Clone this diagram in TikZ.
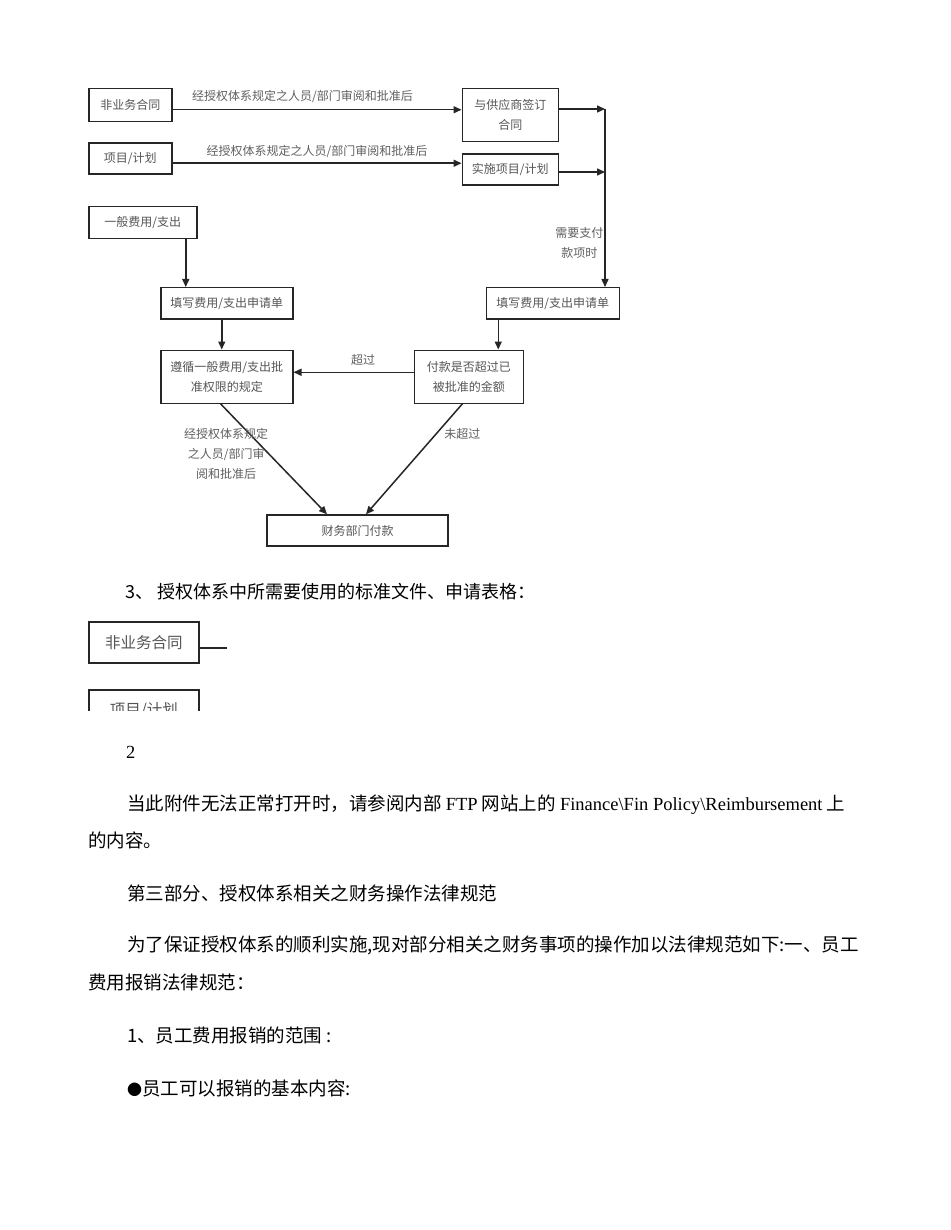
\documentclass[tikz,border=0pt]{standalone}
\usepackage{fontspec}
\setmainfont{Liberation Serif}
\newfontfamily\cjk{Noto Sans CJK SC}
\usepackage{tikz}
\usetikzlibrary{arrows.meta, positioning, calc}
\usepackage{xcolor}
\definecolor{boxstr}{HTML}{262626}
\definecolor{boxtxt}{HTML}{555555}
\definecolor{lbltxt}{HTML}{606060}
\tikzset{
  box/.style   ={rectangle, draw=boxstr, line width=1.5pt, fill=white, align=center,
                 inner sep=2pt, text=boxtxt, font=\cjk\fontsize{12}{20}\selectfont},
  lbl/.style   ={align=center, inner sep=1pt, text=lbltxt, font=\cjk\fontsize{12}{20}\selectfont},
  flow/.style  ={-{Triangle[length=8pt,width=7pt]}, line width=1.5pt, draw=boxstr},
  docbox/.style={rectangle, draw=boxstr, line width=1.6pt, fill=white, align=center,
                 anchor=north west, minimum width=110pt, minimum height=41pt,
                 text=boxtxt, font=\cjk\fontsize{15.5}{18}\selectfont},
  para/.style  ={anchor=west, inner sep=0pt, font=\cjk\fontsize{18.5}{22}\selectfont},
}

\begin{document}
\begin{tikzpicture}[x=1pt, y=-1pt]
    \useasboundingbox[fill=white] (0,0) rectangle (950,1230);

    \node[box, anchor=north west, minimum width=83pt, minimum height=33pt] (nbc) at (88,88) {非业务合同};
    \node[box, below=20pt of nbc.south west, anchor=north west, minimum width=83pt, minimum height=31pt] (proj) {项目/计划};
    \node[box, below=31pt of proj.south west, anchor=north west, minimum width=108pt, minimum height=32pt] (gen) {一般费用/支出};
    \node[box, right=289pt of nbc.north east, anchor=north west, minimum width=96pt, minimum height=53pt] (sign) {与供应商签订\\合同};
    \node[box, below=11pt of sign.south west, anchor=north west, minimum width=96pt, minimum height=31pt] (impl) {实施项目/计划};

    \node[box, anchor=north west, minimum width=132pt, minimum height=31pt] (fillL) at (160,287) {填写费用/支出申请单};
    \node[box, right=192pt of fillL.north east, anchor=north west, minimum width=133pt, minimum height=31pt] (fillR) {填写费用/支出申请单};
    \node[box, below=30pt of fillL, minimum width=132pt, minimum height=53pt] (rule) {遵循一般费用/支出批\\准权限的规定};
    \node[box, right=120pt of rule.north east, anchor=north west, minimum width=109pt, minimum height=53pt] (check) {付款是否超过已\\被批准的金额};
    \node[box, minimum width=181pt, minimum height=31pt] (pay) at (357.5,530.5) {财务部门付款};

    \coordinate (bus) at (605,109);
    \coordinate (bus2) at (605,172);
    \coordinate (gx) at ([xshift=43pt]gen.south);
    \coordinate (fx) at ([xshift=-54.5pt]fillR.south);

    \draw[flow] ([yshift=-4.5pt]nbc.east) -- ([yshift=-4.5pt]nbc.east -| sign.west)
        node[lbl, pos=0.45, above=5pt] (l1) {经授权体系规定之人员/部门审阅和批准后};
    \draw[flow] ([yshift=-4.5pt]proj.east) -- ([yshift=-4.5pt]proj.east -| impl.west)
        node[lbl, pos=0.5, above=4pt] (l2) {经授权体系规定之人员/部门审阅和批准后};
    \draw[flow] (bus -| sign.east) -- (bus);
    \draw[flow] (bus2 -| impl.east) -- (bus2);
    \draw[flow] (bus) -- (bus |- fillR.north)
        node[lbl, pos=0.753, left=0pt] (l3) {需要支付\\款项时};
    \draw[flow] (gx) -- (gx |- fillL.north);
    \draw[flow] ([xshift=-5pt]fillL.south) -- ([xshift=-5pt]rule.north);
    \draw[flow] (fx) -- (fx |- check.north);
    \draw[flow] ([yshift=4.5pt]check.west) -- ([yshift=4.5pt]rule.east)
        node[lbl, pos=0.42, above=5pt] (l4) {超过};
    \draw[flow] ([xshift=-6pt]rule.south) -- ([xshift=-30.5pt]pay.north)
        node[lbl, pos=0.456, xshift=-43pt] (l5) {经授权体系规定\\之人员/部门审\\阅和批准后};
    \draw[flow] ([xshift=-6.5pt]check.south) -- ([xshift=8.5pt]pay.north)
        node[lbl, pos=0.27, xshift=26pt] (l6) {未超过};

    \node[para, font=\cjk\fontsize{18}{22}\selectfont] (sec3) at (125,592) {3、 授权体系中所需要使用的标准文件、申请表格：};
    \node[docbox] (doc1) at (88,621) {非业务合同};
    \coordinate (doc1end) at (227,648);
    \draw[line width=1.5pt, draw=boxstr] (doc1end -| doc1.east) -- (doc1end);
    \begin{scope}
      \clip (0,0) rectangle (950,710.5);
      \node[docbox] (doc2) at (88,689) {项目/计划};
    \end{scope}

    \node[para, font=\rmfamily\fontsize{18.5}{22}\selectfont] (pgno) at (126,752) {2};
    \node[para] (p1a) at (127,805) {{\cjk 当此附件无法正常打开时，请参阅内部} {\rmfamily FTP} {\cjk 网站上的} {\rmfamily Finance\textbackslash Fin Policy\textbackslash Reimbursement} {\cjk 上}};
    \node[para] (p1b) at (88,840) {的内容。};
    \node[para] (p2) at (127,893) {第三部分、授权体系相关之财务操作法律规范};
    \node[para] (p3a) at (127,945) {为了保证授权体系的顺利实施,现对部分相关之财务事项的操作加以法律规范如下:一、员工};
    \node[para] (p3b) at (88,982) {费用报销法律规范：};
    \node[para] (p4) at (127,1035) {1、员工费用报销的范围 :};
    \node[para] (p5) at (127,1088) {{\fontsize{15}{22}\selectfont ●}员工可以报销的基本内容:};
\end{tikzpicture}
\end{document}
